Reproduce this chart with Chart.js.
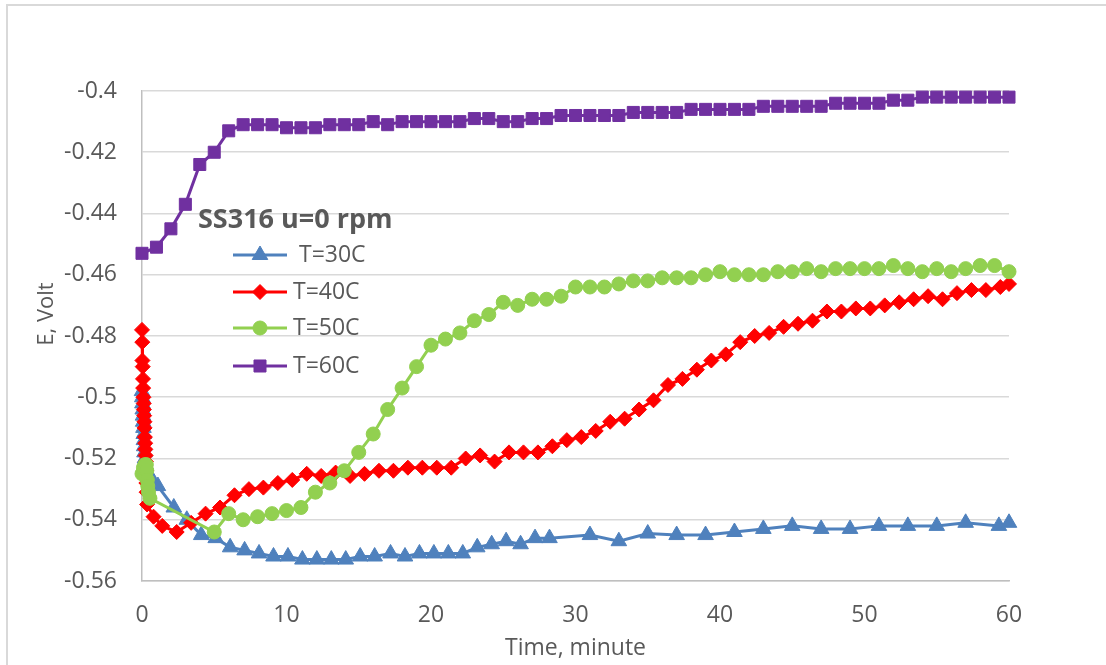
<!DOCTYPE html>
<html>
<head>
<meta charset="utf-8">
<script src="https://cdn.jsdelivr.net/npm/chart.js@4.4.1/dist/chart.umd.min.js"></script>
<style>
  html, body { margin: 0; padding: 0; background: #fff; }
  #myChart { display: block; }
</style>
</head>
<body>
<canvas id="myChart" width="1106" height="665"></canvas>
<script>
// axis ticks
const xTicks = [0, 10, 20, 30, 40, 50, 60]
const yTicks = [-0.56, -0.54, -0.52, -0.5, -0.48, -0.46, -0.44, -0.42, -0.4]

// series names
const seriesNames = [' T=30C', 'T=40C', 'T=50C', 'T=60C']
const legendTitle = 'SS316 u=0 rpm'

// T=30C (time in minutes, E in volts)
const t30 = [0, 0.02, 0.03, 0.05, 0.07, 0.08, 0.1, 0.12, 0.13, 0.15, 0.17, 0.2, 0.25, 0.3,
    0.6, 1.1, 2.2, 3.1, 4.1, 5.1, 6.1, 7.1, 8.1, 9.1, 10.1, 11.1, 12.1, 13.1, 14.1, 15.1, 16.1,
    17.2, 18.2, 19.2, 20.2, 21.2, 22.2, 23.2, 24.2, 25.2, 26.2, 27.2, 28.2,
    31, 33, 35, 37, 39, 41, 43, 45, 47, 49, 51, 53, 55, 57, 59.3, 60]
const e30 = [-0.498, -0.500, -0.502, -0.504, -0.506, -0.508, -0.510, -0.512, -0.514, -0.516, -0.518, -0.520, -0.522, -0.524,
    -0.526, -0.529, -0.536, -0.540, -0.545, -0.546, -0.549, -0.550, -0.551, -0.552, -0.552, -0.553, -0.553, -0.553, -0.553, -0.552, -0.552,
    -0.551, -0.552, -0.551, -0.551, -0.551, -0.551, -0.549, -0.548, -0.547, -0.548, -0.546, -0.546,
    -0.545, -0.547, -0.5445, -0.545, -0.545, -0.544, -0.543, -0.542, -0.543, -0.543, -0.542, -0.542, -0.542, -0.541, -0.542, -0.541]

// T=40C
const t40 = [0, 0.02, 0.03, 0.05, 0.07, 0.08, 0.1, 0.12, 0.13, 0.15, 0.17, 0.18, 0.2, 0.22, 0.23, 0.25, 0.27, 0.28, 0.3, 0.32, 0.35,
    0.8, 1.4, 2.4, 3.4, 4.4, 5.4, 6.4, 7.4, 8.4, 9.4, 10.4, 11.4, 12.4, 13.4, 14.4, 15.4, 16.4, 17.4, 18.4, 19.4,
    20.4, 21.4, 22.4, 23.4, 24.4, 25.4, 26.4, 27.4, 28.4, 29.4, 30.4, 31.4, 32.4, 33.4, 34.4, 35.4, 36.4, 37.4, 38.4, 39.4,
    40.4, 41.4, 42.4, 43.4, 44.4, 45.4, 46.4, 47.4, 48.4, 49.4, 50.4, 51.4, 52.4, 53.4, 54.4, 55.4, 56.4, 57.4, 58.4, 59.4, 60]
const e40 = [-0.478, -0.482, -0.488, -0.490, -0.494, -0.497, -0.500, -0.502, -0.504, -0.506, -0.508, -0.510, -0.513, -0.515, -0.517, -0.519, -0.521, -0.524, -0.528, -0.531, -0.535,
    -0.539, -0.542, -0.544, -0.541, -0.538, -0.536, -0.532, -0.530, -0.5295, -0.528, -0.527, -0.525, -0.5257, -0.5246, -0.5257, -0.525, -0.524, -0.524, -0.523, -0.523,
    -0.523, -0.523, -0.520, -0.519, -0.521, -0.518, -0.518, -0.518, -0.516, -0.514, -0.513, -0.511, -0.508, -0.507, -0.504, -0.501, -0.496, -0.494, -0.491, -0.488,
    -0.486, -0.482, -0.480, -0.479, -0.477, -0.476, -0.475, -0.472, -0.472, -0.471, -0.471, -0.470, -0.469, -0.468, -0.467, -0.468, -0.466, -0.465, -0.465, -0.464, -0.463]

// T=50C
const t50 = [0, 0.1, 0.2, 0.3, 0.33, 0.37, 0.4, 0.45, 0.55,
    5, 6, 7, 8, 9, 10, 11, 12, 13, 14, 15, 16, 17, 18, 19, 20, 21, 22, 23, 24, 25, 26, 27, 28, 29, 30,
    31, 32, 33, 34, 35, 36, 37, 38, 39, 40, 41, 42, 43, 44, 45, 46, 47, 48, 49, 50, 51, 52, 53, 54, 55, 56, 57, 58, 59, 60]
const e50 = [-0.525, -0.523, -0.522, -0.522, -0.524, -0.527, -0.529, -0.531, -0.533,
    -0.544, -0.538, -0.540, -0.539, -0.538, -0.537, -0.536, -0.531, -0.528, -0.524, -0.518, -0.512, -0.504, -0.497, -0.490, -0.483, -0.481, -0.479, -0.475, -0.473, -0.469, -0.470, -0.468, -0.468, -0.467, -0.464,
    -0.464, -0.464, -0.463, -0.462, -0.462, -0.461, -0.461, -0.461, -0.460, -0.459, -0.460, -0.460, -0.460, -0.459, -0.459, -0.458, -0.459, -0.458, -0.458, -0.458, -0.458, -0.457, -0.458, -0.459, -0.458, -0.459, -0.458, -0.457, -0.457, -0.459]

// T=60C
const t60 = [0, 1, 2, 3, 4, 5, 6, 7, 8, 9, 10, 11, 12, 13, 14, 15, 16, 17, 18, 19, 20,
    21, 22, 23, 24, 25, 26, 27, 28, 29, 30, 31, 32, 33, 34, 35, 36, 37, 38, 39, 40,
    41, 42, 43, 44, 45, 46, 47, 48, 49, 50, 51, 52, 53, 54, 55, 56, 57, 58, 59, 60]
const e60 = [-0.453, -0.451, -0.445, -0.437, -0.424, -0.420, -0.413, -0.411, -0.411, -0.411, -0.412, -0.412, -0.412, -0.411, -0.411, -0.411, -0.410, -0.411, -0.410, -0.410, -0.410,
    -0.410, -0.410, -0.409, -0.409, -0.410, -0.410, -0.409, -0.409, -0.408, -0.408, -0.408, -0.408, -0.408, -0.407, -0.407, -0.407, -0.407, -0.406, -0.406, -0.406,
    -0.406, -0.406, -0.405, -0.405, -0.405, -0.405, -0.405, -0.404, -0.404, -0.404, -0.404, -0.403, -0.403, -0.402, -0.402, -0.402, -0.402, -0.402, -0.402, -0.402]

const textGray = '#595959'
const fontName = '"Open Sans", sans-serif'

function pairs(ts, es) {
    return ts.map((t, i) => ({ x: t, y: es[i] }))
}

function series(label, ts, es, color, style, radius, order) {
    return {
        label: label,
        data: pairs(ts, es),
        borderColor: color,
        backgroundColor: color,
        borderWidth: 3,
        showLine: true,
        tension: 0,
        clip: false,
        pointStyle: style,
        pointRadius: radius,
        pointBorderWidth: 1,
        pointBorderColor: color,
        pointBackgroundColor: color,
        order: order
    }
}

/////////////////////////////////////////////////////////////
// plugins: white background + frame, y title, legend inside plot
const frame = {
    id: 'frame',
    beforeDraw(chart) {
        const c = chart.ctx
        c.save()
        c.fillStyle = '#fff'
        c.fillRect(0, 0, chart.width, chart.height)
        c.strokeStyle = '#d9d9d9'
        c.lineWidth = 2
        c.strokeRect(7, 5, 1300, 1000)
        c.restore()
    },
    afterDraw(chart) {
        // y axis title
        const c = chart.ctx
        c.save()
        c.translate(47, 314)
        c.rotate(-Math.PI / 2)
        c.fillStyle = textGray
        c.font = '22px ' + fontName
        c.textAlign = 'center'
        c.textBaseline = 'middle'
        c.fillText('E, Volt', 0, 0)
        c.restore()
    }
}

const insideLegend = {
    id: 'insideLegend',
    afterDatasetsDraw(chart) {
        const c = chart.ctx
        c.save()
        c.fillStyle = textGray
        c.textBaseline = 'middle'
        c.font = 'bold 27px ' + fontName
        c.fillText(legendTitle, 198, 220)
        const rows = [255, 292, 328, 366]
        chart.data.datasets.forEach((ds, i) => {
            const y = rows[i]
            c.strokeStyle = ds.borderColor
            c.lineWidth = 3
            c.beginPath()
            c.moveTo(233, y)
            c.lineTo(287, y)
            c.stroke()
            c.fillStyle = ds.borderColor
            c.lineWidth = 1
            Chart.helpers.drawPoint(c, {
                pointStyle: ds.pointStyle,
                radius: ds.pointRadius,
                rotation: 0,
                borderWidth: 1
            }, 260, y)
            c.fillStyle = textGray
            c.font = '23px ' + fontName
            c.fillText(ds.label, 293, y)
        })
        c.restore()
    }
}

function buildChart() {
    const data = {
        datasets: [
            series(seriesNames[0], t30, e30, '#4F81BD', 'triangle', 9, 4),
            series(seriesNames[1], t40, e40, '#FF0000', 'rectRot', 7.5, 3),
            series(seriesNames[2], t50, e50, '#92D050', 'circle', 7, 2),
            series(seriesNames[3], t60, e60, '#7030A0', 'rect', 8.5, 1)
        ]
    }

    const config = {
        type: 'scatter',
        data,
        plugins: [frame, insideLegend],
        options: {
            responsive: false,
            animation: false,
            layout: { padding: { top: 91, right: 97, left: 0, bottom: 0 } },
            plugins: {
                legend: { display: false },
                tooltip: { enabled: false }
            },
            scales: {
                x: {
                    type: 'linear',
                    min: 0,
                    max: 60,
                    afterBuildTicks: s => { s.ticks = xTicks.map(v => ({ value: v })) },
                    afterFit: s => { s.height = 84 },
                    grid: { display: false, drawTicks: false },
                    border: { display: true, color: '#bfbfbf', width: 1.5 },
                    ticks: {
                        color: textGray,
                        font: { family: fontName, size: 23 },
                        padding: 21,
                        maxRotation: 0
                    },
                    title: {
                        display: true,
                        text: 'Time, minute',
                        color: textGray,
                        font: { family: fontName, size: 23 },
                        padding: { top: 0, bottom: 3 }
                    }
                },
                y: {
                    type: 'linear',
                    min: -0.56,
                    max: -0.4,
                    afterBuildTicks: s => { s.ticks = yTicks.map(v => ({ value: v })) },
                    afterFit: s => { s.width = 142 },
                    grid: { color: '#d9d9d9', lineWidth: 1.5, drawTicks: false },
                    border: { display: true, color: '#bfbfbf', width: 1.5 },
                    ticks: {
                        color: textGray,
                        font: { family: fontName, size: 23 },
                        padding: 25,
                        callback: v => String(parseFloat(Number(v).toFixed(2)))
                    }
                }
            }
        }
    }

    return new Chart(document.getElementById('myChart'), config)
}

Promise.all([
    document.fonts.load('23px "Open Sans"'),
    document.fonts.load('bold 27px "Open Sans"')
]).catch(() => {}).then(() => { buildChart() })
</script>
</body>
</html>
